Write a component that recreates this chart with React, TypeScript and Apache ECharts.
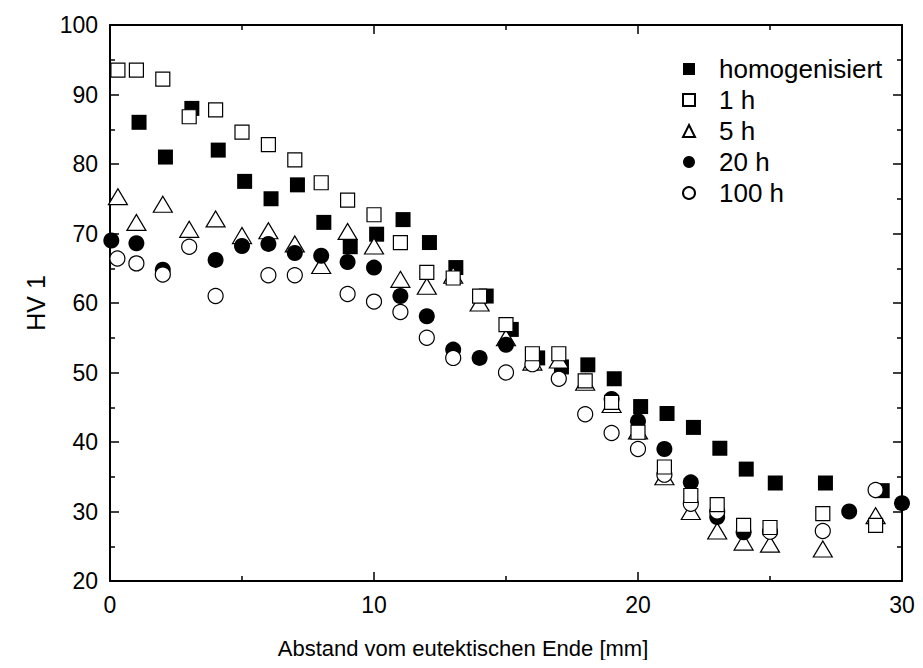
import React, { useEffect, useRef } from "react";
import * as echarts from "echarts";

const seriesNames = ["homogenisiert", "1 h", "5 h", "20 h", "100 h"];

const homogenisiert: [number, number][] = [
  [1.1, 86], [2.1, 81], [3.1, 88], [4.1, 82], [5.1, 77.5], [6.1, 75], [7.1, 77],
  [8.1, 71.6], [9.1, 68.1], [10.1, 69.9], [11.1, 72], [12.1, 68.7], [13.1, 65.1],
  [14.25, 61], [15.2, 56.2], [16.2, 52.1], [17.1, 50.8], [18.1, 51.1], [19.1, 49.1],
  [20.1, 45.1], [21.1, 44.1], [22.1, 42.1], [23.1, 39.1], [24.1, 36.1], [25.2, 34.1],
  [27.1, 34.1], [29.25, 33],
];

const h1: [number, number][] = [
  [0.3, 93.5], [1, 93.5], [2, 92.2], [3, 86.8], [4, 87.8], [5, 84.6], [6, 82.8],
  [7, 80.6], [8, 77.3], [9, 74.8], [10, 72.7], [11, 68.7], [12, 64.4], [13, 63.6],
  [14, 61], [15, 56.9], [16, 52.7], [17, 52.7], [18, 48.8], [19, 45.7], [20, 41.4],
  [21, 36.4], [22, 32.3], [23, 31], [24, 28], [25, 27.7], [27, 29.7], [29, 28],
];

const h5: [number, number][] = [
  [0.3, 75.3], [1, 71.6], [2, 74.2], [3, 70.6], [4, 72.1], [5, 69.7], [6, 70.4],
  [7, 68.5], [8, 65.4], [9, 70.3], [10, 68.2], [11, 63.4], [12, 62.4], [13, 64],
  [14, 60], [15, 55], [16, 51.5], [17, 51.8], [18, 48.6], [19, 45.4], [20, 41.6],
  [21, 35], [22, 30], [23, 27.2], [24, 25.6], [25, 25.3], [27, 24.6], [29, 29.4],
];

const h20: [number, number][] = [
  [0.05, 69], [1, 68.6], [2, 64.8], [4, 66.2], [5, 68.2], [6, 68.5], [7, 67.2],
  [8, 66.8], [9, 65.9], [10, 65.1], [11, 61], [12, 58.1], [13, 53.3], [14, 52.1],
  [15, 54], [19, 46.2], [20, 43], [21, 39], [22, 34.2], [23, 29.2], [24, 27],
  [28, 30], [30, 31.2],
];

const h100: [number, number][] = [
  [0.28, 66.4], [1, 65.7], [2, 64.1], [3, 68.1], [4, 61], [6, 64], [7, 64],
  [9, 61.3], [10, 60.2], [11, 58.7], [12, 55], [13, 52.1], [15, 50], [16, 51.2],
  [17, 49.1], [18, 44], [19, 41.3], [20, 39], [21, 35.3], [22, 31.1], [23, 30],
  [25, 27.1], [27, 27.2], [29, 33.1],
];

const xTitle = "Abstand vom eutektischen Ende [mm]";
const yTitle = "HV 1";

const FONT = "'Liberation Sans', Arial, Helvetica, sans-serif";

export default function App() {
  const ref = useRef<HTMLDivElement>(null);

  useEffect(() => {
    if (!ref.current) return;
    const chart = echarts.init(ref.current, undefined, { renderer: "svg" });

    const filled = { color: "#000", borderColor: "#000", borderWidth: 0, opacity: 1 };
    const open = { color: "#fff", borderColor: "#000", borderWidth: 1.2, opacity: 1 };

    const axisCommon = {
      axisLine: { show: true, onZero: false, lineStyle: { color: "#000", width: 2 } },
      axisTick: { show: true, inside: true, length: 9, lineStyle: { color: "#000", width: 1.5 } },
      minorTick: { show: true, splitNumber: 2, length: 5, lineStyle: { color: "#000", width: 1.5 } },
      splitLine: { show: false },
      minorSplitLine: { show: false },
    };

    chart.setOption({
      animation: false,
      backgroundColor: "#fff",
      textStyle: { fontFamily: FONT },
      grid: { left: 110, right: 21, top: 25, bottom: 87, containLabel: false },
      legend: {
        orient: "vertical",
        left: 677,
        top: 51,
        itemWidth: 12,
        itemHeight: 12,
        itemGap: 5,
        data: seriesNames,
        itemStyle: { opacity: 1 },
        textStyle: { fontSize: 26, color: "#000", fontFamily: FONT, padding: [0, 0, 0, 19] },
      },
      xAxis: [
        {
          type: "value",
          position: "bottom",
          min: 0,
          max: 30,
          interval: 10,
          name: xTitle,
          nameLocation: "middle",
          nameGap: 56,
          nameTextStyle: { fontSize: 22, color: "#000", fontFamily: FONT, padding: [0, 86, 0, 0] },
          axisLabel: { fontSize: 23, color: "#000", margin: 12, fontFamily: FONT },
          ...axisCommon,
        },
        {
          type: "value",
          position: "top",
          min: 0,
          max: 30,
          interval: 10,
          axisLabel: { show: false },
          ...axisCommon,
        },
      ],
      yAxis: [
        {
          type: "value",
          position: "left",
          min: 20,
          max: 100,
          interval: 10,
          name: yTitle,
          nameLocation: "middle",
          nameGap: 62,
          nameRotate: 90,
          nameTextStyle: { fontSize: 25, color: "#000", fontFamily: FONT },
          axisLabel: { fontSize: 23, color: "#000", margin: 12, fontFamily: FONT },
          ...axisCommon,
        },
        {
          type: "value",
          position: "right",
          min: 20,
          max: 100,
          interval: 10,
          axisLabel: { show: false },
          ...axisCommon,
        },
      ],
      series: [
        { name: seriesNames[0], type: "scatter", data: homogenisiert, symbol: "rect", symbolSize: 15, itemStyle: filled, z: 2 },
        { name: seriesNames[1], type: "scatter", data: h1, symbol: "rect", symbolSize: 14, itemStyle: open, z: 6 },
        { name: seriesNames[2], type: "scatter", data: h5, symbol: "triangle", symbolSize: [19, 16], itemStyle: open, z: 3 },
        { name: seriesNames[3], type: "scatter", data: h20, symbol: "circle", symbolSize: 16, itemStyle: filled, z: 4 },
        { name: seriesNames[4], type: "scatter", data: h100, symbol: "circle", symbolSize: 15, itemStyle: open, z: 5 },
      ],
    });

    return () => chart.dispose();
  }, []);

  return <div ref={ref} style={{ width: 923, height: 668, margin: -8 }} />;
}
